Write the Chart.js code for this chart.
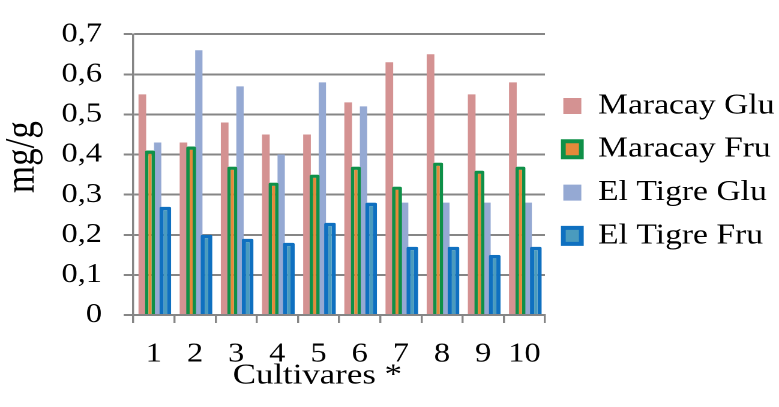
<html>
<head>
    <meta charset="utf-8">
    <script src="https://cdn.jsdelivr.net/npm/chart.js"></script>
    <style>
        html, body { margin: 0; padding: 0; background: #fff; overflow: hidden; }
        /* the reference is stretched sideways, so draw narrower and widen it */
        #wrap { width: 649px; height: 407px; transform: scaleX(1.2003); transform-origin: 0 0; }
    </style>
</head>

<body>
    <div id="wrap">
        <canvas id="chart"></canvas>
    </div>
    <script>
        const categories = ['1', '2', '3', '4', '5', '6', '7', '8', '9', '10'];
        const maracayGlu = [0.55, 0.43, 0.48, 0.45, 0.45, 0.53, 0.63, 0.65, 0.55, 0.58];
        const maracayFru = [0.41, 0.42, 0.37, 0.33, 0.35, 0.37, 0.32, 0.38, 0.36, 0.37];
        const tigreGlu = [0.43, 0.66, 0.57, 0.40, 0.58, 0.52, 0.28, 0.28, 0.28, 0.28];
        const tigreFru = [0.27, 0.20, 0.19, 0.18, 0.23, 0.28, 0.17, 0.17, 0.15, 0.17];
        const yTickLabels = ['0', '0,1', '0,2', '0,3', '0,4', '0,5', '0,6', '0,7'];

        const serif = 'Liberation Serif';
        const gridGray = '#868686';
        const catPct = 0.745;

        Chart.defaults.color = '#000';
        Chart.defaults.font.family = serif;

        const legendBorder = [0, 4, 0, 4];

        // the Fru bars sit over their neighbours, so draw them last
        const frontSets = [1, 3];
        const drawOrder = {
            id: 'drawOrder',
            beforeDatasetDraw(chart, args) {
                if (frontSets.includes(args.index)) return false;
            },
            afterDatasetsDraw(chart) {
                frontSets.forEach(i => {
                    const meta = chart.getDatasetMeta(i);
                    if (!meta.hidden) meta.controller.draw();
                });
            }
        };

        const data = {
            labels: categories,
            datasets: [{
                label: 'Maracay Glu',
                data: maracayGlu,
                backgroundColor: '#d49292',
                borderWidth: 0,
                barPercentage: 1.0,
                categoryPercentage: catPct
            }, {
                label: 'Maracay Fru',
                data: maracayFru,
                backgroundColor: '#e5893a',
                borderColor: '#0f9048',
                borderWidth: { left: 2.9, right: 2.9, top: 3.3, bottom: 0 },
                borderRadius: 1.5,
                barPercentage: 1.3,
                categoryPercentage: catPct
            }, {
                label: 'El Tigre Glu',
                data: tigreGlu,
                backgroundColor: '#95a9d3',
                borderWidth: 0,
                barPercentage: 0.95,
                categoryPercentage: catPct
            }, {
                label: 'El Tigre Fru',
                data: tigreFru,
                backgroundColor: '#4a9bbe',
                borderColor: '#0f70c0',
                borderWidth: { left: 3.5, right: 3.5, top: 3.5, bottom: 0 },
                borderRadius: 1.5,
                barPercentage: 1.53,
                categoryPercentage: catPct
            }]
        };

        const config = {
            type: 'bar',
            data: data,
            plugins: [drawOrder],
            options: {
                responsive: true,
                maintainAspectRatio: false,
                animation: false,
                devicePixelRatio: 2,
                layout: { padding: { top: 24, right: 0, bottom: 0, left: 0 } },
                plugins: {
                    tooltip: { enabled: false },
                    legend: {
                        position: 'right',
                        fullSize: false,
                        maxWidth: 195,
                        align: 'start',
                        // empty title only pushes the rows down
                        title: {
                            display: true,
                            text: ' ',
                            font: { family: serif, size: 20, lineHeight: 1.2 },
                            padding: { top: 18.5, bottom: 0 }
                        },
                        labels: {
                            font: { family: serif, size: 28 },
                            boxWidth: 15,
                            boxHeight: 16,
                            padding: 15.3,
                            generateLabels: (chart) => {
                                const items = Chart.defaults.plugins.legend.labels.generateLabels(chart);
                                items.forEach(it => { it.lineWidth = legendBorder[it.datasetIndex]; });
                                return items;
                            }
                        }
                    }
                },
                scales: {
                    x: {
                        afterFit: (scale) => { scale.height = 92; },
                        grid: {
                            drawOnChartArea: false,
                            drawTicks: true,
                            tickLength: 8,
                            color: gridGray,
                            lineWidth: 1.7
                        },
                        border: { display: true, color: gridGray, width: 2 },
                        ticks: {
                            font: { family: serif, size: 27 },
                            padding: 15,
                            maxRotation: 0
                        },
                        title: {
                            display: true,
                            text: 'Cultivares *\u00a0\u00a0\u00a0\u00a0\u00a0',
                            font: { family: serif, size: 29 },
                            padding: { top: 0, bottom: 13.6 }
                        }
                    },
                    y: {
                        min: 0,
                        max: 0.7,
                        afterFit: (scale) => { scale.width = 111; },
                        grid: {
                            color: gridGray,
                            lineWidth: 2,
                            tickLength: 8
                        },
                        border: { display: true, color: gridGray, width: 1.7 },
                        ticks: {
                            stepSize: 0.1,
                            font: { family: serif, size: 27 },
                            padding: 18,
                            callback: (value, index) => yTickLabels[index]
                        },
                        title: {
                            display: true,
                            text: '\u00a0\u00a0\u00a0\u00a0mg/g',
                            font: { family: serif, size: 35, lineHeight: 1.08 },
                            padding: { top: 0, bottom: 0 }
                        }
                    }
                }
            }
        };

        window.chart = new Chart(document.getElementById('chart'), config);
    </script>
</body>

</html>
